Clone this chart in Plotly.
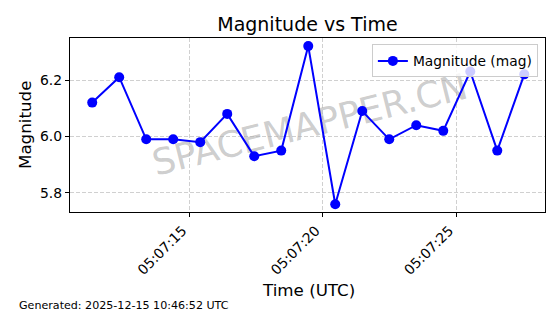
import plotly.graph_objects as go

times = [
    "2025-12-15 05:07:11.348", "2025-12-15 05:07:12.360", "2025-12-15 05:07:13.373",
    "2025-12-15 05:07:14.385", "2025-12-15 05:07:15.398", "2025-12-15 05:07:16.410",
    "2025-12-15 05:07:17.423", "2025-12-15 05:07:18.435", "2025-12-15 05:07:19.448",
    "2025-12-15 05:07:20.460", "2025-12-15 05:07:21.473", "2025-12-15 05:07:22.485",
    "2025-12-15 05:07:23.498", "2025-12-15 05:07:24.510", "2025-12-15 05:07:25.523",
    "2025-12-15 05:07:26.535", "2025-12-15 05:07:27.548",
]
magnitude = [6.12, 6.21, 5.99, 5.99, 5.98, 6.08, 5.93, 5.95, 6.32,
             5.76, 6.09, 5.99, 6.04, 6.02, 6.23, 5.95, 6.22]

x_ticks = ["2025-12-15 05:07:15", "2025-12-15 05:07:20", "2025-12-15 05:07:25"]
x_tick_labels = ["05:07:15", "05:07:20", "05:07:25"]
y_ticks = [5.8, 6.0, 6.2]
y_tick_labels = ["5.8", "6.0", "6.2"]

title_text = "Magnitude vs Time"
x_title = "Time (UTC)"
y_title = "Magnitude"
legend_name = "Magnitude (mag)"
footer = "Generated: 2025-12-15 10:46:52 UTC"
watermark = "SPACEMAPPER.CN"

FONT = "DejaVu Sans"

fig = go.Figure()
fig.add_trace(go.Scatter(
    x=times, y=magnitude, mode="lines+markers", name=legend_name,
    line=dict(color="#0000ff", width=2),
    marker=dict(color="#0000ff", size=10),
))

axis_common = dict(
    showline=True, linecolor="black", linewidth=1.2, mirror=True,
    ticks="outside", ticklen=4, tickcolor="black", tickwidth=1,
    showgrid=True, gridcolor="rgba(176,176,176,0.6)", griddash="4px,2px", gridwidth=0.8,
    zeroline=False, tickfont=dict(family=FONT, size=13.9, color="black"),
)

fig.update_layout(
    width=560, height=314, autosize=False,
    margin=dict(l=70, r=15, t=38, b=102, pad=0),
    paper_bgcolor="white", plot_bgcolor="white",
    font=dict(family=FONT, color="black"),
    title=dict(text=title_text, x=0.549, xanchor="center", y=1 - 24.5 / 314, yanchor="middle",
               font=dict(family=FONT, size=19, color="black")),
    xaxis=dict(type="date", range=["2025-12-15 05:07:10.515", "2025-12-15 05:07:28.325"],
               tickvals=x_ticks, ticktext=x_tick_labels, tickangle=-45, ticklabelshift=-7,
               **axis_common),
    yaxis=dict(range=[5.7327, 6.3487], tickvals=y_ticks, ticktext=y_tick_labels, **axis_common),
    showlegend=True,
    legend=dict(x=0.985, y=0.963, xanchor="right", yanchor="top",
                bgcolor="rgba(255,255,255,0.8)", bordercolor="#cccccc", borderwidth=1,
                font=dict(family=FONT, size=13.8, color="black")),
)

W, H = 475.0, 174.0
fig.add_annotation(text=x_title, xref="paper", yref="paper", x=(308 - 70) / W, y=(212.3 - 290) / H,
                   xanchor="center", yanchor="middle", showarrow=False,
                   font=dict(family=FONT, size=16.7, color="black"))
fig.add_annotation(text=y_title, xref="paper", yref="paper", x=(25 - 70) / W, y=0.5,
                   xanchor="center", yanchor="middle", showarrow=False, textangle=-90,
                   font=dict(family=FONT, size=16.7, color="black"))
fig.add_annotation(text=footer, xref="paper", yref="paper", x=(17 - 70) / W, y=(212.3 - 305.3) / H,
                   xanchor="left", yanchor="middle", showarrow=False,
                   font=dict(family=FONT, size=11.1, color="black"))

# watermark drawn beneath the data via a shape label
cx, cy = (309 - 70) / W, (212.3 - 122) / H
fig.add_shape(type="rect", xref="paper", yref="paper",
              x0=cx - 0.05, x1=cx + 0.05, y0=cy - 0.05, y1=cy + 0.05,
              line=dict(width=0), fillcolor="rgba(0,0,0,0)", layer="between",
              label=dict(text=watermark, textangle=-14, textposition="middle center",
                         font=dict(family=FONT, size=36, color="rgba(128,128,128,0.4)")))

fig.write_html("out.html")
